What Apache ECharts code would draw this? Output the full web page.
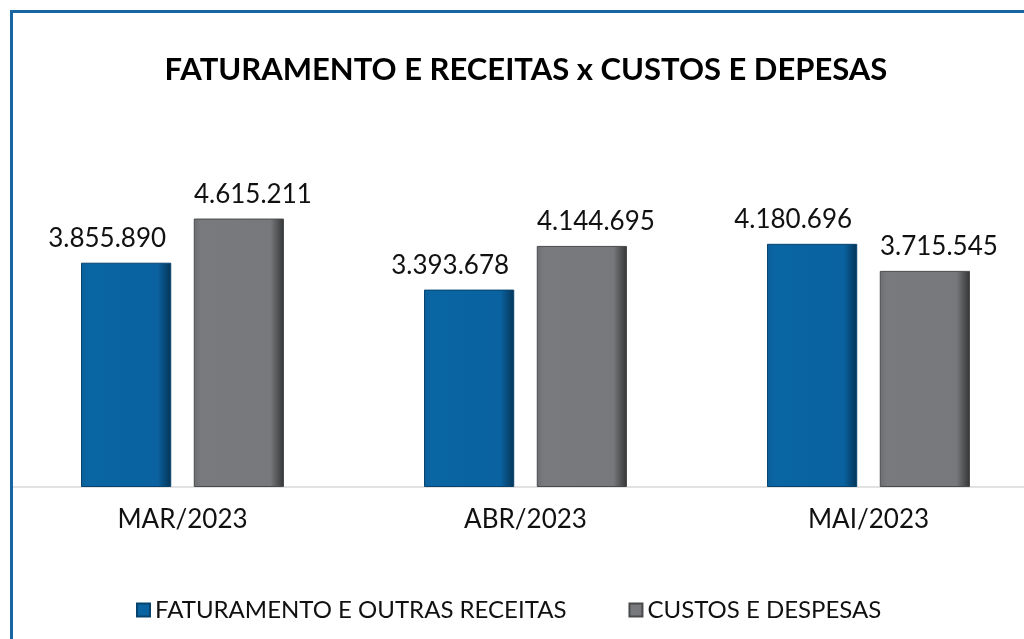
<!DOCTYPE html>
<html>
<head>
<meta charset="utf-8">
<script src="https://cdn.jsdelivr.net/npm/echarts@6/dist/echarts.min.js"></script>
<style>
  html, body { margin: 0; padding: 0; background: #fff; overflow: hidden; }
  #wrap { position: relative; width: 1024px; height: 639px; overflow: hidden; }
  #frame {
    position: absolute; left: 10px; top: 10px; right: -20px; bottom: -20px;
    border-left: 3px solid #1666a6; border-top: 3px solid #1666a6;
    pointer-events: none; z-index: 2;
  }
  #chart { position: absolute; left: 0; top: 0; width: 1040px; height: 639px; }
</style>
</head>
<body>
<div id="wrap">
  <div id="chart"></div>
  <div id="frame"></div>
</div>
<script>
// dados do gráfico
var meses = ["MAR/2023", "ABR/2023", "MAI/2023"];
var faturamento = [3855890, 3393678, 4180696];
var custos = [4615211, 4144695, 3715545];
var nomes = ["FATURAMENTO E OUTRAS RECEITAS", "CUSTOS E DESPESAS"];

function fmt(v) {
  return String(v).replace(/\B(?=(\d{3})+(?!\d))/g, ".");
}

var chart = echarts.init(document.getElementById("chart"));
var fonte = "Lato, 'DejaVu Sans', sans-serif";

var option = {
  animation: false,
  title: {
    text: "FATURAMENTO E RECEITAS x CUSTOS E DEPESAS",
    left: 521,
    textAlign: "center",
    top: 49,
    textStyle: { fontFamily: fonte, fontWeight: "bold", fontSize: 31, color: "#000" }
  },
  legend: {
    data: nomes,
    left: 131,
    top: 593,
    itemWidth: 13,
    itemHeight: 13,
    itemGap: 62,
    icon: "rect",
    textStyle: { fontFamily: fonte, fontSize: 24, color: "#111" }
  },
  grid: { left: 11, right: 0, top: 138, bottom: 152 },
  xAxis: {
    type: "category",
    data: meses,
    axisLine: { lineStyle: { color: "#d9d9d9", width: 1.5 } },
    axisTick: { show: false },
    axisLabel: { fontFamily: fonte, fontSize: 26, color: "#111", margin: 20 }
  },
  yAxis: {
    type: "value",
    min: 0,
    max: 6000000,
    show: false,
    splitLine: { show: false }
  },
  series: [
    {
      name: nomes[0],
      type: "bar",
      data: faturamento,
      barWidth: "26.3%",
      barGap: "25%",
      itemStyle: {
        color: new echarts.graphic.LinearGradient(0, 0, 1, 0, [
          { offset: 0, color: "#0b5f98" },
          { offset: 0.08, color: "#0a65a3" },
          { offset: 0.85, color: "#0a62a0" },
          { offset: 1, color: "#053456" }
        ]),
        borderColor: "#06436f",
        borderWidth: 1
      },
      label: {
        show: true,
        position: "top",
        distance: 11,
        offset: [-19, 0],
        fontFamily: fonte,
        fontSize: 26,
        color: "#111",
        formatter: function (p) { return fmt(p.value); }
      }
    },
    {
      name: nomes[1],
      type: "bar",
      data: custos,
      barWidth: "26.3%",
      itemStyle: {
        color: new echarts.graphic.LinearGradient(0, 0, 1, 0, [
          { offset: 0, color: "#6c6e71" },
          { offset: 0.08, color: "#787a7d" },
          { offset: 0.85, color: "#76787b" },
          { offset: 1, color: "#343536" }
        ]),
        borderColor: "#4a4b4d",
        borderWidth: 1
      },
      label: {
        show: true,
        position: "top",
        distance: 11,
        offset: [14, 0],
        fontFamily: fonte,
        fontSize: 26,
        color: "#111",
        formatter: function (p) { return fmt(p.value); }
      }
    }
  ]
};

chart.setOption(option);
window.addEventListener("resize", function () {
  chart.resize();
});
</script>
</body>
</html>
